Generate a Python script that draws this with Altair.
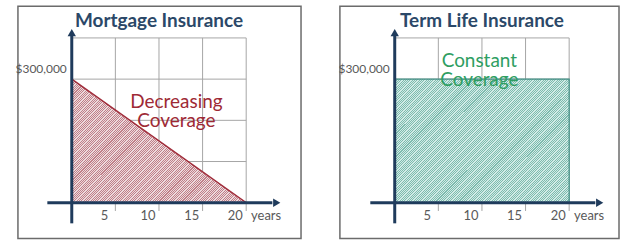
import altair as alt
import pandas as pd

# ---- data ----
tick_years = [5, 10, 15, 20]
tick_labels = ["5", "10", "15", "20"]
grid_k = [100, 200, 300, 400]          # horizontal grid, thousands of $
amount_k = [300]
amount_label = ["$300,000"]

mortgage_years = [0, 20]
mortgage_cov_k = [300, 0]
term_years = [0, 20]
term_cov_k = [300, 300]

titles = ["Mortgage Insurance", "Term Life Insurance"]
notes = ["Decreasing\nCoverage", "Constant\nCoverage"]

FONT = "Lato"
AXIS_COL = "#1f3b5c"
GRID_COL = "#a6a6a6"
LABEL_COL = "#595959"
TITLE_COL = "#2b4868"
YDOM = [-87.1, 476.6]


def hatch(dark, light, n=130, frac=0.45):
    stops = []
    for i in range(n):
        a, b, c = i / n, (i + frac) / n, (i + 1) / n
        stops += [
            {"offset": a, "color": dark},
            {"offset": b, "color": dark},
            {"offset": b, "color": light},
            {"offset": c, "color": light},
        ]
    return {"gradient": "linear", "stops": stops,
            "x1": 0, "y1": 0, "x2": 1.14, "y2": 0.808}


def panel(width, xdom, title, note, note_x, note_y, shape_kind,
          fill, stroke, note_col):
    sx = alt.Scale(domain=xdom)
    sy = alt.Scale(domain=YDOM)

    def X(f="x"):
        return alt.X(f"{f}:Q", scale=sx, axis=None)

    def Y(f="y"):
        return alt.Y(f"{f}:Q", scale=sy, axis=None)

    vgrid = alt.Chart(pd.DataFrame({"x": tick_years, "y": -20, "y2": 400})).mark_rule(
        color=GRID_COL, strokeWidth=1).encode(x=X(), y=Y(), y2="y2:Q")
    hgrid = alt.Chart(pd.DataFrame({"y": grid_k, "x": 0, "x2": 20})).mark_rule(
        color=GRID_COL, strokeWidth=1).encode(y=Y(), x=X(), x2="x2:Q")

    if shape_kind == "area":
        df = pd.DataFrame({"x": mortgage_years, "y": mortgage_cov_k, "y2": 0})
        shape = alt.Chart(df).mark_area(
            fill=fill, stroke=stroke, strokeWidth=1.5).encode(
            x=X(), y=Y(), y2="y2:Q")
    else:
        df = pd.DataFrame({"x": [term_years[0]], "x2": [term_years[-1]],
                           "y": [term_cov_k[0]], "y2": [0]})
        shape = alt.Chart(df).mark_rect(
            fill=fill, stroke=stroke, strokeWidth=1.2).encode(
            x=X(), x2="x2:Q", y=Y(), y2="y2:Q")

    yaxis = alt.Chart(pd.DataFrame({"x": [0], "y": [-50], "y2": [408]})).mark_rule(
        color=AXIS_COL, strokeWidth=3).encode(x=X(), y=Y(), y2="y2:Q")
    xaxis = alt.Chart(pd.DataFrame({"y": [0], "x": [-2.8], "x2": [23]})).mark_rule(
        color=AXIS_COL, strokeWidth=3).encode(y=Y(), x=X(), x2="x2:Q")
    yarrow = alt.Chart(pd.DataFrame({"x": [0], "y": [413]})).mark_point(
        shape="triangle-up", filled=True, opacity=1, color=AXIS_COL, size=70).encode(
        x=X(), y=Y())
    xarrow = alt.Chart(pd.DataFrame({"x": [23.5], "y": [0]})).mark_point(
        shape="triangle-right", filled=True, opacity=1, color=AXIS_COL, size=70).encode(
        x=X(), y=Y())

    ticks = alt.Chart(pd.DataFrame({"x": tick_years, "y": 0, "t": tick_labels})).mark_text(
        font=FONT, fontSize=13, color=LABEL_COL, dx=-11, dy=13,
        baseline="middle", align="center").encode(x=X(), y=Y(), text="t:N")
    years = alt.Chart(pd.DataFrame({"x": [20], "y": [0], "t": ["years"]})).mark_text(
        font=FONT, fontSize=13, color=LABEL_COL, dx=20, dy=13,
        baseline="middle", align="center").encode(x=X(), y=Y(), text="t:N")
    amount = alt.Chart(pd.DataFrame({"x": 0, "y": amount_k, "t": amount_label})).mark_text(
        font=FONT, fontSize=12, color=LABEL_COL, dx=-5, dy=-10,
        baseline="middle", align="right").encode(x=X(), y=Y(), text="t:N")

    ttl = alt.Chart(pd.DataFrame({"x": [10], "y": [440], "t": [title]})).mark_text(
        font=FONT, fontSize=19, fontWeight="bold", color=TITLE_COL,
        baseline="middle", align="center").encode(x=X(), y=Y(), text="t:N")
    nt = alt.Chart(pd.DataFrame({"x": [note_x], "y": [note_y], "t": [note]})).mark_text(
        font=FONT, fontSize=19, color=note_col, lineBreak="\n",
        lineHeight=19, baseline="middle", align="center").encode(
        x=X(), y=Y(), text="t:N")

    layers = [vgrid, hgrid, shape, ticks, years, amount, yaxis, xaxis,
              yarrow, xarrow, ttl, nt]
    return alt.layer(*layers).properties(width=width, height=233)


left = panel(284, [-6.171, 26.286], titles[0], notes[0], 12.0, 244, "area",
             hatch("#c07f88", "#ecdadd"), "#a02c3a", "#9e2a35")
right = panel(280, [-6.286, 25.714], titles[1], notes[1], 9.7, 345, "rect",
              hatch("#7dbbae", "#d2ebe6"), "#3f8f84", "#2e9e62")

chart = alt.hconcat(left, right, spacing=35).properties(
    padding={"left": 14, "top": 5, "right": 0, "bottom": 0},
    background="white",
).configure_view(stroke="#6b6b6b", strokeWidth=1.5)

chart.save("out.html", embed_options={"renderer": "svg", "actions": False})
